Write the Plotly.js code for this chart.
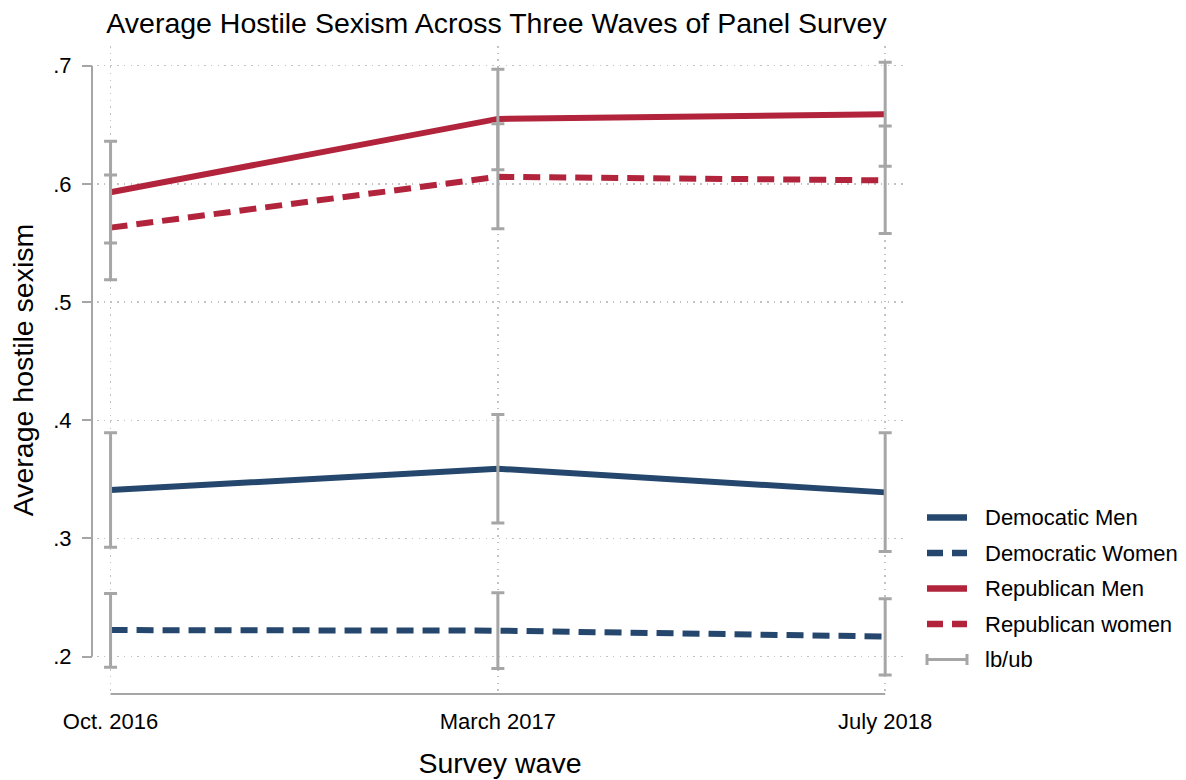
<!DOCTYPE html>
<html>
<head>
<meta charset="utf-8">
<script src="https://cdn.plot.ly/plotly-3.0.1.min.js"></script>
<style>
  html, body { margin: 0; padding: 0; background: #ffffff; }
  #chart { width: 1186px; height: 780px; }
</style>
</head>
<body>
<div id="chart"></div>
<script>
// Survey waves (x categories)
const waves = ['Oct. 2016', 'March 2017', 'July 2018'];

// Group means of the hostile sexism scale
const demMen   = [0.341, 0.359, 0.339];
const demWomen = [0.2225, 0.222, 0.217];
const repMen   = [0.593, 0.655, 0.659];
const repWomen = [0.563, 0.606, 0.603];

// Lower / upper bounds of the 95% intervals
const demMenLb   = [0.2925, 0.313, 0.289];
const demMenUb   = [0.3895, 0.405, 0.3895];
const demWomenLb = [0.191, 0.190, 0.1845];
const demWomenUb = [0.2535, 0.254, 0.249];
const repMenLb   = [0.550, 0.612, 0.615];
const repMenUb   = [0.636, 0.697, 0.703];
const repWomenLb = [0.519, 0.562, 0.558];
const repWomenUb = [0.6075, 0.651, 0.649];

// Y axis ticks
const yTickVals = [0.2, 0.3, 0.4, 0.5, 0.6, 0.7];
const yTickText = ['.2', '.3', '.4', '.5', '.6', '.7'];

// Legend entries
const legendLabels = ['Democatic Men', 'Democratic Women', 'Republican Men', 'Republican women', 'lb/ub'];

const NAVY = '#26476d';
const RED = '#b1243b';
const GREY = '#a6a6a6';
const FONT = 'Liberation Sans, Arial, Helvetica, sans-serif';
const DASH = '17px,9px';

const groups = [
  { name: legendLabels[0], y: demMen,   lb: demMenLb,   ub: demMenUb,   color: NAVY, dash: 'solid' },
  { name: legendLabels[1], y: demWomen, lb: demWomenLb, ub: demWomenUb, color: NAVY, dash: DASH },
  { name: legendLabels[2], y: repMen,   lb: repMenLb,   ub: repMenUb,   color: RED,  dash: 'solid' },
  { name: legendLabels[3], y: repWomen, lb: repWomenLb, ub: repWomenUb, color: RED,  dash: DASH }
];

const traces = [];
// mean lines
groups.forEach(g => {
  traces.push({
    type: 'scatter', mode: 'lines', name: g.name,
    x: waves, y: g.y,
    line: { color: g.color, width: 6, dash: g.dash },
    showlegend: false, hoverinfo: 'x+y+name'
  });
});
// interval caps drawn on top of every line
groups.forEach(g => {
  traces.push({
    type: 'scatter', mode: 'markers', name: legendLabels[4],
    x: waves, y: g.y,
    marker: { size: 1, opacity: 0 },
    error_y: {
      type: 'data', symmetric: false,
      array: g.ub.map((u, i) => u - g.y[i]),
      arrayminus: g.lb.map((l, i) => g.y[i] - l),
      color: GREY, thickness: 3, width: 6.5
    },
    showlegend: false, hoverinfo: 'skip'
  });
});

// layout geometry
const W = 1186, H = 780;
const M = { l: 92, r: 283, t: 46, b: 86 };
const paperW = W - M.l - M.r;
const paperH = H - M.t - M.b;
const px = x => (x - M.l) / paperW;          // page x -> paper x
const py = y => (H - M.b - y) / paperH;      // page y -> paper y

const shapes = [
  // y axis line spanning the tick range
  { type: 'line', xref: 'paper', yref: 'y', x0: 0, x1: 0,
    y0: yTickVals[0], y1: yTickVals[yTickVals.length - 1],
    line: { color: GREY, width: 2 }, layer: 'above' },
  // x axis line spanning the waves
  { type: 'line', xref: 'x', yref: 'paper', x0: 0, x1: waves.length - 1, y0: 0, y1: 0,
    line: { color: GREY, width: 2 }, layer: 'above' }
];

const annotations = [];
const legendRows = [517.5, 553, 588.5, 624, 659.5];
const sx0 = px(927), sx1 = px(967);
groups.forEach((g, i) => {
  const yy = py(legendRows[i]);
  shapes.push({ type: 'line', xref: 'paper', yref: 'paper', x0: sx0, x1: sx1, y0: yy, y1: yy,
    line: { color: g.color, width: 6.5, dash: g.dash === 'solid' ? 'solid' : '16px,9px' } });
});
{
  const yy = py(legendRows[4]);
  const h = 5.5 / paperH;
  shapes.push({ type: 'line', xref: 'paper', yref: 'paper', x0: sx0, x1: sx1, y0: yy, y1: yy,
    line: { color: GREY, width: 3 } });
  shapes.push({ type: 'line', xref: 'paper', yref: 'paper', x0: sx0, x1: sx0, y0: yy - h, y1: yy + h,
    line: { color: GREY, width: 3 } });
  shapes.push({ type: 'line', xref: 'paper', yref: 'paper', x0: sx1, x1: sx1, y0: yy - h, y1: yy + h,
    line: { color: GREY, width: 3 } });
}
legendLabels.forEach((t, i) => {
  annotations.push({
    xref: 'paper', yref: 'paper', x: px(983), y: py(legendRows[i]),
    xanchor: 'left', yanchor: 'middle', showarrow: false,
    text: t, font: { family: FONT, size: 22, color: '#000000' }
  });
});

const layout = {
  width: W, height: H,
  margin: M,
  paper_bgcolor: '#ffffff', plot_bgcolor: '#ffffff',
  showlegend: false,
  font: { family: FONT, color: '#000000' },
  title: {
    text: 'Average Hostile Sexism Across Three Waves of Panel Survey',
    font: { family: FONT, size: 28.5, color: '#000000' },
    xref: 'paper', x: px(496.5), xanchor: 'center',
    yref: 'container', y: 1 - 23 / H, yanchor: 'middle'
  },
  xaxis: {
    type: 'category', categoryarray: waves,
    domain: [5 / paperW, 1],
    range: [-0.035, 2.046],
    showgrid: true, gridcolor: '#c2c2c2', gridwidth: 1.5, griddash: '1.5px,5.2px',
    showline: false, zeroline: false, ticks: '',
    tickfont: { family: FONT, size: 22, color: '#000000' },
    ticklabelstandoff: 12,
    title: { text: 'Survey wave', font: { family: FONT, size: 28.5, color: '#000000' }, standoff: 20 }
  },
  yaxis: {
    anchor: 'free', position: 0,
    range: [0.1684, 0.7167],
    tickvals: yTickVals, ticktext: yTickText,
    ticks: 'outside', ticklen: 10, tickwidth: 2, tickcolor: GREY,
    showgrid: true, gridcolor: '#c2c2c2', gridwidth: 1.5, griddash: '1.5px,5.2px',
    showline: false, zeroline: false,
    tickfont: { family: FONT, size: 22, color: '#000000' },
    ticklabelstandoff: 6,
    title: { text: 'Average hostile sexism', font: { family: FONT, size: 28.5, color: '#000000' }, standoff: 10 }
  },
  shapes: shapes,
  annotations: annotations
};

Plotly.newPlot('chart', traces, layout, { displayModeBar: false, staticPlot: true });
</script>
</body>
</html>
